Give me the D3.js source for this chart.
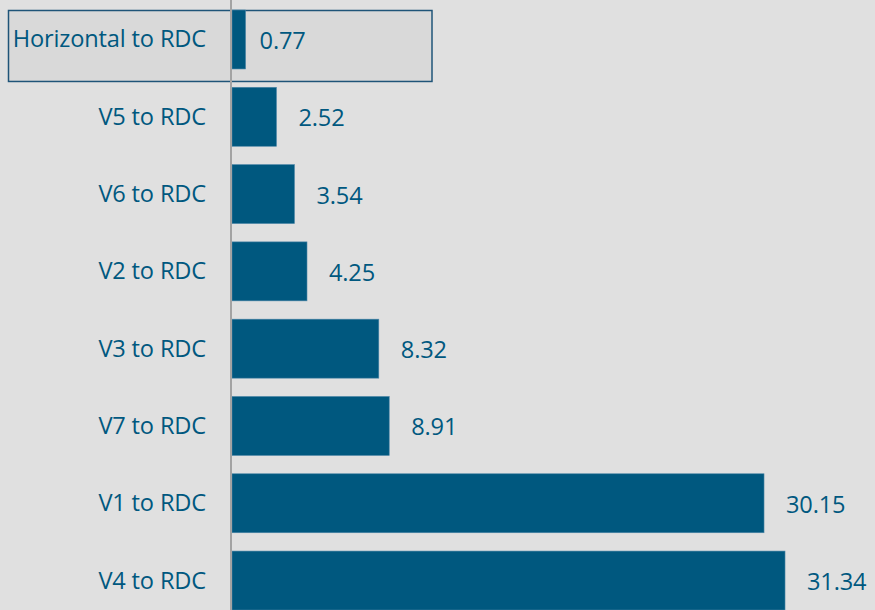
<!DOCTYPE html>
<html>
<head>
<meta charset="utf-8">
<script src="https://cdn.jsdelivr.net/npm/d3@7"></script>
<style>
  html, body { margin: 0; padding: 0; background: #e0e0e0; }
  svg { display: block; }
  text { font-family: "Open Sans", sans-serif; }
</style>
</head>
<body>
<svg id="chart" width="875" height="610"></svg>
<script>
// Route categories (top to bottom) and their values
const categories = ["Horizontal to RDC", "V5 to RDC", "V6 to RDC", "V2 to RDC", "V3 to RDC", "V7 to RDC", "V1 to RDC", "V4 to RDC"];
const values = [0.77, 2.52, 3.54, 4.25, 8.32, 8.91, 30.15, 31.34];
const highlighted = ["Horizontal to RDC"];

const W = 875, H = 610;
const barColor = "#00587f";
const textColor = "#00587f";

const svg = d3.select("#chart");
svg.append("rect").attr("width", W).attr("height", H).attr("fill", "#e0e0e0");

const x = d3.scaleLinear().domain([0, 35]).range([232, 849.6]);
const y = d3.scaleBand()
  .domain(categories)
  .range([0.84, 619.2])
  .paddingInner(0.237)
  .paddingOuter(0.1185);

const rows = categories.map((c, i) => ({ cat: c, value: values[i] }));

// Highlight frame behind the first row
highlighted.forEach(c => {
  svg.append("rect")
    .attr("x", 8.5)
    .attr("y", y(c) + 0.5)
    .attr("width", 423.5)
    .attr("height", y.bandwidth() + 12)
    .attr("fill", "#d9d9d9")
    .attr("stroke", "#1f5478")
    .attr("stroke-width", 1.5);
});

// Bars
svg.append("g").selectAll("rect")
  .data(rows)
  .join("rect")
  .attr("x", x(0))
  .attr("y", d => y(d.cat))
  .attr("width", d => x(d.value) - x(0))
  .attr("height", y.bandwidth())
  .attr("fill", barColor)
  .attr("stroke", "#4d87a8")
  .attr("stroke-width", 0.6);

// Category axis line
svg.append("line")
  .attr("x1", 231).attr("x2", 231)
  .attr("y1", 0).attr("y2", H)
  .attr("stroke", "#a3a3a3")
  .attr("stroke-width", 2);

// Category labels
svg.append("g").selectAll("text")
  .data(rows)
  .join("text")
  .attr("x", 206)
  .attr("y", d => y(d.cat) + y.bandwidth() / 2 + 8)
  .attr("text-anchor", "end")
  .attr("font-size", 23.6)
  .attr("letter-spacing", -0.15)
  .attr("fill", textColor)
  .text(d => d.cat);

// Value labels
svg.append("g").selectAll("text")
  .data(rows)
  .join("text")
  .attr("x", d => x(d.value) + (highlighted.includes(d.cat) ? 14 : 22))
  .attr("y", d => y(d.cat) + y.bandwidth() / 2 + 9.5)
  .attr("font-size", 23.6)
  .attr("letter-spacing", -0.15)
  .attr("fill", textColor)
  .text(d => d3.format(".2f")(d.value));
</script>
</body>
</html>
